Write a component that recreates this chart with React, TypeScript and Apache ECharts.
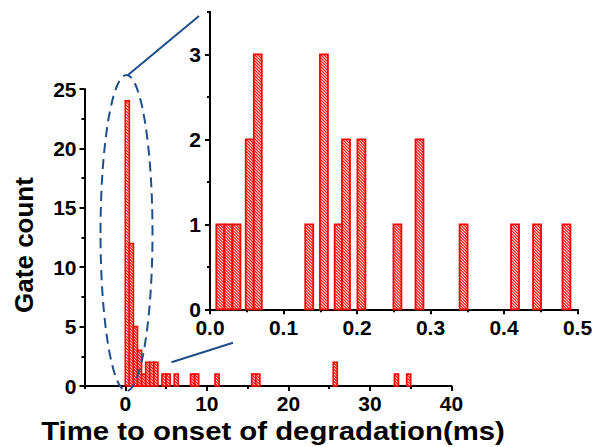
import React, { useEffect, useRef } from "react";
import * as echarts from "echarts";

// Main histogram: bin start (ms) and gate count, bins of 0.5 ms
const mainBinStarts = [0, 0.5, 1, 1.5, 2, 2.5, 3, 3.5, 4.5, 5, 6, 8, 8.5, 11, 15.5, 16, 25.5, 33, 34.5];
const mainCounts = [24, 12, 5, 3, 1, 2, 2, 2, 1, 1, 1, 1, 1, 1, 1, 1, 2, 1, 1];
const mainBinWidth = 0.5;

// Inset histogram (0 - 0.5 ms): bin centre (ms) and gate count
const insetCenters = [0.014, 0.025, 0.036, 0.054, 0.065, 0.135, 0.155, 0.175, 0.185, 0.206, 0.255, 0.285, 0.345, 0.415, 0.445, 0.485];
const insetCounts = [1, 1, 1, 2, 3, 1, 3, 1, 2, 2, 1, 2, 1, 1, 1, 1];
const insetBinWidth = 0.0108;

// Tick labels
const mainXMajor = [0, 10, 20, 30, 40];
const mainXMinor = [-5, 5, 15, 25, 35];
const insetYMajor = [0, 1, 2, 3];
const insetYMinor = [0.5, 1.5, 2.5, 3.5];

const xTitle = "Time to onset of degradation(ms)";
const yTitle = "Gate count";

const FONT = '"Liberation Sans", Arial, sans-serif';
const RED = "#ff0000";
const BLUE = "#204e8a";

function hatchLines(x0: number, y0: number, x1: number, y1: number, step: number, lw: number) {
  const out: any[] = [];
  for (let c = y0 - x1 + step / 2; c < y1 - x0; c += step) {
    const xa = Math.max(x0, y0 - c);
    const xb = Math.min(x1, y1 - c);
    if (xb > xa) {
      out.push({
        type: "line",
        shape: { x1: xa, y1: xa + c, x2: xb, y2: xb + c },
        style: { stroke: RED, lineWidth: lw },
        silent: true,
      });
    }
  }
  return out;
}

function makeRender(step: number, hatchW: number, borderW: number) {
  return (params: any, api: any) => {
    const x0v = api.value(0);
    const x1v = api.value(1);
    const yv = api.value(2);
    const tl = api.coord([x0v, yv]);
    const br = api.coord([x1v, 0]);
    const x0 = tl[0], y0 = tl[1], x1 = br[0], y1 = br[1];
    return {
      type: "group",
      children: [
        { type: "rect", shape: { x: x0, y: y0, width: x1 - x0, height: y1 - y0 }, style: { fill: "#fff" } },
        ...hatchLines(x0, y0, x1, y1, step, hatchW),
        {
          type: "rect",
          shape: { x: x0, y: y0, width: x1 - x0, height: y1 - y0 },
          style: { fill: "none", stroke: RED, lineWidth: borderW },
        },
      ],
    };
  };
}

const labelStyle = { color: "#000", fontFamily: FONT, fontWeight: "bold" as const, fontSize: 21 };
const axisLine = { show: true, onZero: false, lineStyle: { color: "#000", width: 2 } };

export default function App() {
  const ref = useRef<HTMLDivElement>(null);
  useEffect(() => {
    if (!ref.current) return;
    const chart = echarts.init(ref.current, undefined, { renderer: "svg" });
    const mainData = mainBinStarts.map((s, i) => [s, s + mainBinWidth, mainCounts[i]]);
    const insetData = insetCenters.map((c, i) => [c - insetBinWidth / 2, c + insetBinWidth / 2, insetCounts[i]]);
    chart.setOption({
      animation: false,
      backgroundColor: "#fff",
      grid: [
        { left: 84.5, top: 89, width: 367, height: 297 },
        { left: 210, top: 11.8, width: 367.5, height: 297.5 },
      ],
      xAxis: [
        {
          gridIndex: 0, type: "value", position: "bottom", min: -5, max: 40, interval: 5,
          axisLine,
          axisTick: { show: true, customValues: mainXMajor, length: 5, lineStyle: { color: "#000", width: 2 } },
          axisLabel: { ...labelStyle, customValues: mainXMajor, margin: 7 },
          splitLine: { show: false },
        },
        {
          gridIndex: 0, type: "value", position: "bottom", min: -5, max: 40, interval: 5,
          axisLine: { show: false },
          axisTick: { show: true, customValues: mainXMinor, length: 3, lineStyle: { color: "#000", width: 2 } },
          axisLabel: { show: false },
          splitLine: { show: false },
        },
        {
          gridIndex: 1, type: "value", position: "bottom", min: 0, max: 0.5, interval: 0.1,
          axisLine,
          axisTick: { show: true, length: 5, lineStyle: { color: "#000", width: 2 } },
          minorTick: { show: true, splitNumber: 2, length: 3, lineStyle: { color: "#000", width: 2 } },
          axisLabel: { ...labelStyle, margin: 8, formatter: (v: number) => v.toFixed(1) },
          splitLine: { show: false },
          minorSplitLine: { show: false },
        },
      ],
      yAxis: [
        {
          gridIndex: 0, type: "value", position: "left", min: 0, max: 25, interval: 5,
          axisLine,
          axisTick: { show: true, length: 5, lineStyle: { color: "#000", width: 2 } },
          minorTick: { show: true, splitNumber: 2, length: 3, lineStyle: { color: "#000", width: 2 } },
          axisLabel: { ...labelStyle, margin: 8 },
          splitLine: { show: false },
          minorSplitLine: { show: false },
        },
        {
          gridIndex: 1, type: "value", position: "left", min: 0, max: 3.5, interval: 1,
          axisLine,
          axisTick: { show: true, customValues: insetYMajor, length: 5, lineStyle: { color: "#000", width: 2 } },
          axisLabel: { ...labelStyle, customValues: insetYMajor, margin: 9 },
          splitLine: { show: false },
        },
        {
          gridIndex: 1, type: "value", position: "left", min: 0, max: 3.5, interval: 1,
          axisLine: { show: false },
          axisTick: { show: true, customValues: insetYMinor, length: 3, lineStyle: { color: "#000", width: 2 } },
          axisLabel: { show: false },
          splitLine: { show: false },
        },
      ],
      series: [
        {
          type: "custom", xAxisIndex: 0, yAxisIndex: 0, data: mainData,
          encode: { x: [0, 1], y: 2 },
          renderItem: makeRender(3, 1.2, 1.6),
        },
        {
          type: "custom", xAxisIndex: 2, yAxisIndex: 1, data: insetData,
          encode: { x: [0, 1], y: 2 },
          renderItem: makeRender(3, 1.2, 1.8),
        },
      ],
      graphic: [
        {
          type: "ellipse", z: 100,
          shape: { cx: 126.5, cy: 233, rx: 26, ry: 158 },
          style: { fill: "none", stroke: BLUE, lineWidth: 2, lineDash: [10, 6] },
        },
        { type: "line", z: 100, shape: { x1: 128, y1: 75, x2: 199, y2: 16 }, style: { stroke: BLUE, lineWidth: 2 } },
        { type: "line", z: 100, shape: { x1: 171.5, y1: 362.3, x2: 233, y2: 342.7 }, style: { stroke: BLUE, lineWidth: 2 } },
        {
          type: "text", x: 273, y: 431, scaleX: 1.15,
          style: { text: xTitle, fill: "#000", font: `bold 25.5px ${FONT}`, align: "center", verticalAlign: "middle" },
        },
        {
          type: "text", x: 24, y: 245, rotation: Math.PI / 2,
          style: { text: yTitle, fill: "#000", font: `bold 26px ${FONT}`, align: "center", verticalAlign: "middle" },
        },
      ],
    });
    return () => chart.dispose();
  }, []);
  return <div ref={ref} style={{ position: "fixed", left: 0, top: 0, width: 596, height: 447 }} />;
}
